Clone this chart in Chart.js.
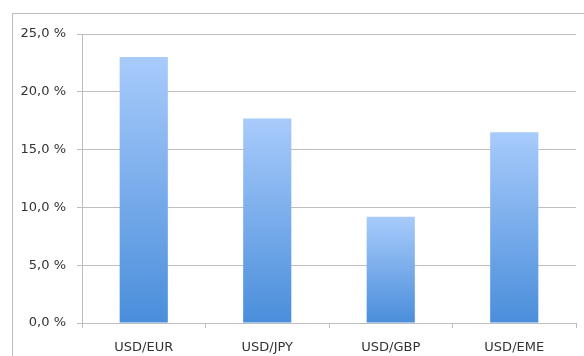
<!DOCTYPE html>
<html>
<head>
<meta charset="utf-8">
<script src="https://cdn.jsdelivr.net/npm/chart.js@4"></script>
<style>
  html, body { margin: 0; padding: 0; background: #fff; }
  #wrap { position: relative; width: 584px; height: 356px; overflow: hidden; }
  #frame { position: absolute; left: 12px; top: 13px; width: 600px; height: 400px;
           border-left: 1px solid #bcbcbc; border-top: 1px solid #bcbcbc; }
  #myChart { position: absolute; left: 0; top: 0; }
</style>
</head>
<body>
<div id="wrap">
  <div id="frame"></div>
  <canvas id="myChart" width="584" height="356"></canvas>
</div>
<script>
// 貨幣對與數值
const pairs = ["USD/EUR", "USD/JPY", "USD/GBP", "USD/EME"];
const shares = [23.0, 17.7, 9.2, 16.5];
const yTicks = [0, 5, 10, 15, 20, 25];

const lineGray = "#bdbdbd";
const textColor = "#333";

function pctLabel(v) {
  return v.toFixed(1).replace(".", ",") + " %";
}

// 每根柱子各自的漸層
function barGradient(c) {
  const chart = c.chart;
  const yScale = chart.scales.y;
  if (!yScale || c.raw === undefined) return "#7fb0ee";
  const top = yScale.getPixelForValue(c.raw);
  const bottom = yScale.getPixelForValue(0);
  if (!isFinite(top) || !isFinite(bottom) || top === bottom) return "#7fb0ee";
  const g = chart.ctx.createLinearGradient(0, top, 0, bottom);
  g.addColorStop(0, "#a8cbfb");
  g.addColorStop(1, "#4a8edb");
  return g;
}

const config = {
  type: "bar",
  data: {
    labels: pairs,
    datasets: [
      {
        data: shares,
        backgroundColor: barGradient,
        borderWidth: 0,
        categoryPercentage: 1,
        barPercentage: 0.39,
      },
    ],
  },
  options: {
    responsive: false,
    animation: false,
    layout: { padding: { left: 0, top: 34, right: 8, bottom: 0 } },
    plugins: {
      legend: { display: false },
      tooltip: { enabled: false },
    },
    scales: {
      x: {
        grid: {
          drawOnChartArea: false,
          drawTicks: true,
          tickLength: 5,
          color: lineGray,
          offset: true,
        },
        border: { color: lineGray, width: 1 },
        ticks: {
          color: textColor,
          font: { family: "DejaVu Sans", size: 13 },
          padding: 12,
          maxRotation: 0,
        },
        afterFit: (scale) => {
          scale.height = 33;
        },
      },
      y: {
        min: 0,
        max: 25,
        afterBuildTicks: (scale) => {
          scale.ticks = yTicks.map((v) => ({ value: v }));
        },
        grid: {
          color: lineGray,
          lineWidth: 1,
          drawTicks: true,
          tickLength: 5,
        },
        border: { color: lineGray, width: 1 },
        ticks: {
          color: textColor,
          font: { family: "DejaVu Sans", size: 13 },
          padding: 11,
          callback: (v) => pctLabel(v),
        },
        afterFit: (scale) => {
          scale.width = 82;
        },
      },
    },
  },
};

const ctx = document.getElementById("myChart");
const myChart = new Chart(ctx, config);
</script>
</body>
</html>
